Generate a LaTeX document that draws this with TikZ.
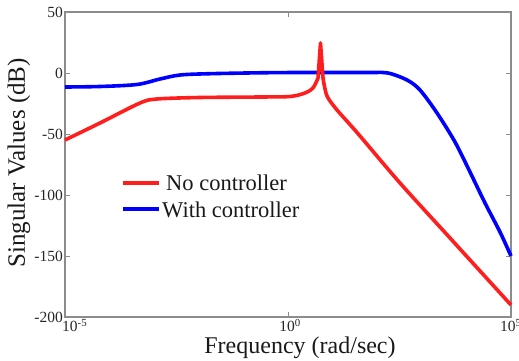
\documentclass[tikz,border=0pt]{standalone}
\usepackage{fontspec}
\setmainfont{Liberation Serif}
\begin{document}
\begin{tikzpicture}[x=1pt,y=-1pt,
  axisline/.style={draw=black!45,line width=1.3pt},
  tickmark/.style={draw=black!45,line width=0.8pt},
  ticklab/.style={font=\fontsize{15.5}{15.5}\selectfont,text=black!85,inner sep=0pt},
  leglab/.style={font=\fontsize{22.5}{22.5}\selectfont,text=black!90,inner sep=0pt,anchor=west},
  curvered/.style={draw={rgb,255:red,255;green,30;blue,30},line width=3.6pt,line join=round},
  curveblue/.style={draw={rgb,255:red,0;green,0;blue,255},line width=3.6pt,line join=round}]
\useasboundingbox (0,0) rectangle (519,361);

% frame corners
\coordinate (tl) at (65,12);
\coordinate (tr) at (511,12);
\coordinate (bl) at (65,317);
\coordinate (br) at (511,317);
\draw[axisline] (bl) -- (tl) -- (tr) -- (br) -- cycle;

% y ticks and labels (1.22 px per dB, 0 dB at y=73)
\foreach \v/\yy in {50/12,0/73,-50/134,-100/195,-150/256,-200/317}{
  \draw[tickmark] (65,\yy) -- (70,\yy);
  \draw[tickmark] (511,\yy) -- (506,\yy);
  \node[ticklab,anchor=east] (yl\yy) at (63,\yy) {\v};
}
% x ticks (decades 1e-5 ... 1e5)
\foreach \xx in {65,288,511}{
  \draw[tickmark] (\xx,317) -- (\xx,312);
  \draw[tickmark] (\xx,12) -- (\xx,17);
}
\node[ticklab,anchor=north west] (xl1) at (62,319) {10\textsuperscript{-5}};
\node[ticklab,anchor=north] (xl2) at (290,319) {10\textsuperscript{0}};
\node[ticklab,anchor=north west] (xl3) at (500,319) {10\textsuperscript{5}};

% axis titles
\node[font=\fontsize{24}{24}\selectfont,text=black!90,inner sep=0pt] (xtitle) at (300,348) {Frequency (rad/sec)};
\node[font=\fontsize{25}{25}\selectfont,text=black!90,inner sep=0pt,rotate=90] (ytitle) at (19,163) {Singular Values (dB)};

% closed loop response
\draw[curveblue] plot[smooth,tension=0.5] coordinates {
  (65,87) (100,86.5) (137,84.5) (160,79) (180,75) (210,73.7) (260,72.8)
  (300,72.5) (370,72.5) (388,73) (407,80) (420,90) (437,113) (455,142)
  (470,172) (485,203) (500,232) (511,256)};

% open loop response with resonance
\draw[curvered] plot[smooth,tension=0.5] coordinates {
  (65,140) (100,123) (140,103) (157,99) (200,97.5) (260,97) (290,96.5)
  (305,93) (313,88) (318,78)}
  -- (320.5,43) -- (323,78)
  plot[smooth,tension=0.5] coordinates {
  (323,78) (327,96) (337,110) (345,119) (360,136) (400,183) (450,238) (511,305)};

% legend
\coordinate (lr1) at (123,183);
\coordinate (lr2) at (159,183);
\coordinate (lb1) at (123,209);
\coordinate (lb2) at (159,209);
\draw[curvered] (lr1) -- (lr2);
\draw[curveblue] (lb1) -- (lb2);
\node[leglab] (legno) at (166,183) {No controller};
\node[leglab] (legwith) at (162,210) {With controller};
\end{tikzpicture}
\end{document}
